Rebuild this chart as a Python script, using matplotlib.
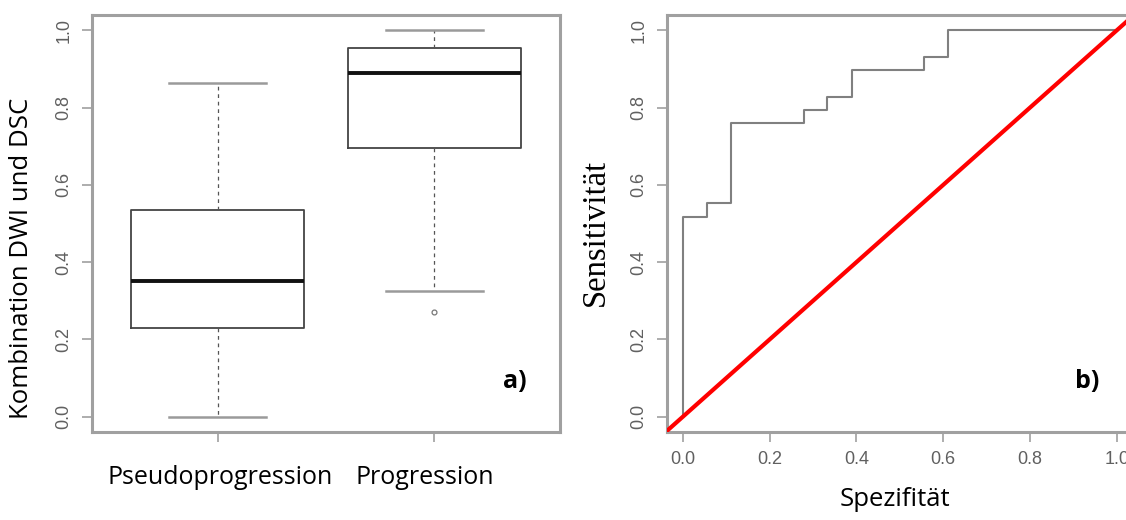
import matplotlib
matplotlib.use("Agg")
import matplotlib.pyplot as plt

# -- Data -------------------------------------------------------
groups = ["Pseudoprogression", "Progression"]
whislo = [0.0, 0.325]
q1 = [0.23, 0.695]
med = [0.35, 0.89]
q3 = [0.535, 0.955]
whishi = [0.865, 1.0]
fliers = [[], [0.27]]

# ROC steps (x axis labelled "Spezifitaet")
roc_x = [0.0, 0.0, 0.056, 0.056, 0.111, 0.111, 0.278, 0.278, 0.333, 0.333,
         0.389, 0.389, 0.556, 0.556, 0.611, 0.611, 1.0]
roc_y = [0.0, 0.517, 0.517, 0.552, 0.552, 0.759, 0.759, 0.793, 0.793, 0.828,
         0.828, 0.897, 0.897, 0.931, 0.931, 1.0, 1.0]

ticks = [0.0, 0.2, 0.4, 0.6, 0.8, 1.0]
tick_labels = ["0.0", "0.2", "0.4", "0.6", "0.8", "1.0"]

# -- Plot -------------------------------------------------------
frame_col = "#a0a0a0"
tick_col = "#606060"
W, H = 1126, 520
fig = plt.figure(figsize=(W / 100, H / 100), dpi=100)

ax1 = fig.add_axes([92 / W, 1 - 432 / H, (560 - 92) / W, (432 - 15) / H])
ax2 = fig.add_axes([667 / W, 1 - 432 / H, (1134 - 667) / W, (432 - 15) / H])

stats = []
for i in range(len(groups)):
    stats.append(dict(whislo=whislo[i], q1=q1[i], med=med[i], q3=q3[i],
                      whishi=whishi[i], fliers=fliers[i]))

ax1.bxp(stats, positions=[1, 2], widths=0.8, showfliers=True,
        boxprops=dict(color="#444444", lw=1.3),
        medianprops=dict(color="#111111", lw=2.8),
        whiskerprops=dict(color="#555555", lw=0.9, ls=(0, (3, 3))),
        capprops=dict(color="#9a9a9a", lw=1.8),
        capwidths=0.45,
        flierprops=dict(marker="o", markersize=3.5, markerfacecolor="none",
                        markeredgecolor="#777777", markeredgewidth=0.9))
ax1.set_xlim(0.42, 2.58)
ax1.set_xticks([1, 2])
ax1.set_xticklabels(["", ""])

ax2.plot(roc_x, roc_y, color="#808080", lw=1.5)
ax2.plot([-0.1, 1.2], [-0.1, 1.2], color="#ff0000", lw=3, zorder=3)
ax2.set_xlim(-0.037, 1.04)
ax2.set_xticks(ticks)
ax2.set_xticklabels(tick_labels, fontsize=13, color=tick_col,
                    family="Liberation Sans")

for ax in (ax1, ax2):
    ax.set_ylim(-0.04, 1.04)
    ax.set_yticks(ticks)
    ax.set_yticklabels(tick_labels, rotation=90, va="center", fontsize=13,
                       color=tick_col, family="Liberation Sans")
    for s in ax.spines.values():
        s.set_color(frame_col)
        s.set_linewidth(2.2)
    ax.tick_params(axis="both", length=7, width=1.2, color=frame_col, pad=7)

# category labels and axis titles
fig.text(220 / W, 1 - 477 / H, groups[0], ha="center", va="center",
         fontsize=18, family="Open Sans", color="black")
fig.text(425 / W, 1 - 477 / H, groups[1], ha="center", va="center",
         fontsize=18, family="Open Sans", color="black")
fig.text(22 / W, 1 - 258 / H, "Kombination DWI und DSC", rotation=90,
         ha="center", va="center", fontsize=18.5, family="Open Sans")
fig.text(596 / W, 1 - 232 / H, "Sensitivität", rotation=90,
         ha="center", va="center", fontsize=23.5, family="Liberation Serif")
fig.text(895 / W, 1 - 500 / H, "Spezifität", ha="center", va="center",
         fontsize=18.5, family="Open Sans")
fig.text(515 / W, 1 - 382 / H, "a)", ha="center", va="center",
         fontsize=18, fontweight="bold", family="Open Sans")
fig.text(1087 / W, 1 - 382 / H, "b)", ha="center", va="center",
         fontsize=18, fontweight="bold", family="Open Sans")

fig.savefig("out.png", dpi=100)
